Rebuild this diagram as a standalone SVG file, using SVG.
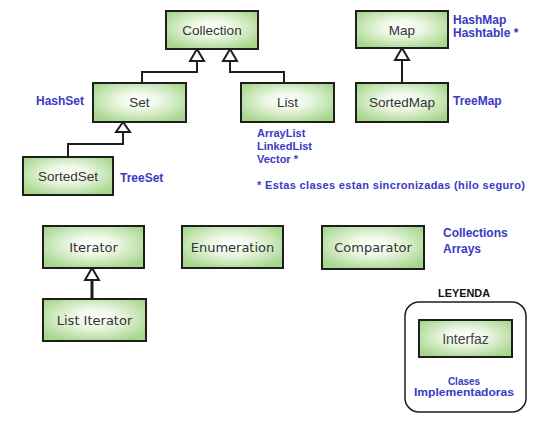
<svg xmlns="http://www.w3.org/2000/svg" width="550" height="423" viewBox="0 0 550 423">
<defs>
<radialGradient id="g" cx="50%" cy="45%" r="62%">
<stop offset="0" stop-color="#ffffff"/>
<stop offset="0.35" stop-color="#eef8e6"/>
<stop offset="1" stop-color="#a6d68c"/>
</radialGradient>
<style>
.box{fill:url(#g);stroke:#1e1e1e;stroke-width:2}
.t{font-family:"Liberation Sans",Arial,sans-serif;font-size:13.5px;fill:#333;text-anchor:middle}
.t2{font-family:"DejaVu Sans",Verdana,sans-serif;font-size:13px;fill:#333;text-anchor:middle}
.lab{font-family:"Liberation Sans",Arial,sans-serif;font-size:12px;font-weight:bold;fill:#3a3ac4}
.lab2{font-family:"Liberation Sans",Arial,sans-serif;font-size:11px;font-weight:bold;fill:#3a3ac4}
.con{fill:none;stroke:#1e1e1e;stroke-width:2}
.tri{fill:#fff;stroke:#1e1e1e;stroke-width:2;stroke-linejoin:miter}
</style>
</defs>
<rect width="550" height="423" fill="#fff"/>
<g id="connectors">
<polyline class="con" points="142,83 142,72 197,72 197,61"/>
<polyline class="con" points="284,83 284,72 230,72 230,61"/>
<polyline class="con" points="68,157 68,144 123,144 123,132"/>
<line class="con" x1="402" y1="60" x2="402" y2="83"/>
<line x1="92" y1="280" x2="92" y2="305" stroke="#1e1e1e" stroke-width="3"/>
<line x1="92" y1="300" x2="92" y2="323" stroke="#1e1e1e" stroke-width="1"/>
<polygon class="tri" points="197,49 190,61 204,61"/>
<polygon class="tri" points="230,49 223,61 237,61"/>
<polygon class="tri" points="123,122 116,132 130,132"/>
<polygon class="tri" points="402,48 395,60 409,60"/>
<polygon class="tri" points="92,268 85,280 99,280"/>
</g>
<g id="collection"><rect class="box" x="166" y="11" width="92" height="38"/><text class="t" x="212" y="35">Collection</text></g>
<g id="set"><rect class="box" x="93" y="83" width="93" height="39"/><text class="t" x="139.5" y="107">Set</text></g>
<g id="list"><rect class="box" x="241" y="83" width="93" height="39"/><text class="t" x="287.5" y="107">List</text></g>
<g id="sortedset"><rect class="box" x="23" y="157" width="90" height="38"/><text class="t" x="68" y="181">SortedSet</text></g>
<g id="map"><rect class="box" x="356" y="11" width="92" height="37"/><text class="t" x="402" y="35">Map</text></g>
<g id="sortedmap"><rect class="box" x="356" y="83" width="92" height="39"/><text class="t" x="402" y="107">SortedMap</text></g>
<g id="iterator"><rect class="box" x="43" y="226" width="101" height="42"/><text class="t2" x="93.5" y="252">Iterator</text></g>
<g id="enumeration"><rect class="box" x="182" y="226" width="101" height="42"/><text class="t2" x="232.5" y="252">Enumeration</text></g>
<g id="comparator"><rect class="box" x="322" y="226" width="102" height="43"/><text class="t2" x="373" y="252">Comparator</text></g>
<g id="listiterator"><rect class="box" x="43" y="299" width="103" height="42"/><text class="t2" x="94.5" y="325">List Iterator</text></g>
<g id="labels">
<text class="lab" x="36" y="105">HashSet</text>
<text class="lab" x="120" y="182">TreeSet</text>
<text class="lab2" x="257" y="137">ArrayList</text>
<text class="lab2" x="257" y="150">LinkedList</text>
<text class="lab2" x="257" y="163">Vector *</text>
<text class="lab" x="453" y="24">HashMap</text>
<text class="lab" x="453" y="37">Hashtable *</text>
<text class="lab" x="453" y="105">TreeMap</text>
<text class="lab2" x="257" y="189" font-size="10.5" textLength="268">* Estas clases estan sincronizadas (hilo seguro)</text>
<text class="lab" x="443" y="237" font-size="12.5">Collections</text>
<text class="lab" x="443" y="253" font-size="12.5">Arrays</text>
</g>
<g id="legend">
<text x="464" y="297" font-family="'Liberation Sans',Arial,sans-serif" font-size="11.5px" font-weight="bold" fill="#111" text-anchor="middle" textLength="52" lengthAdjust="spacingAndGlyphs">LEYENDA</text>
<rect x="405" y="302" width="121" height="110" rx="14" fill="#fff" stroke="#1e1e1e" stroke-width="1.5"/>
<rect class="box" x="419" y="320" width="93" height="37"/>
<text x="465.5" y="344" font-family="'Liberation Sans',Arial,sans-serif" font-size="14px" fill="#444" text-anchor="middle">Interfaz</text>
<text x="464" y="385" font-family="'Liberation Sans',Arial,sans-serif" font-size="10px" font-weight="bold" fill="#3a3ac4" text-anchor="middle">Clases</text>
<text x="464" y="396" font-family="'Liberation Sans',Arial,sans-serif" font-size="10px" font-weight="bold" fill="#3a3ac4" text-anchor="middle" textLength="100" lengthAdjust="spacingAndGlyphs">Implementadoras</text>
</g>
</svg>
